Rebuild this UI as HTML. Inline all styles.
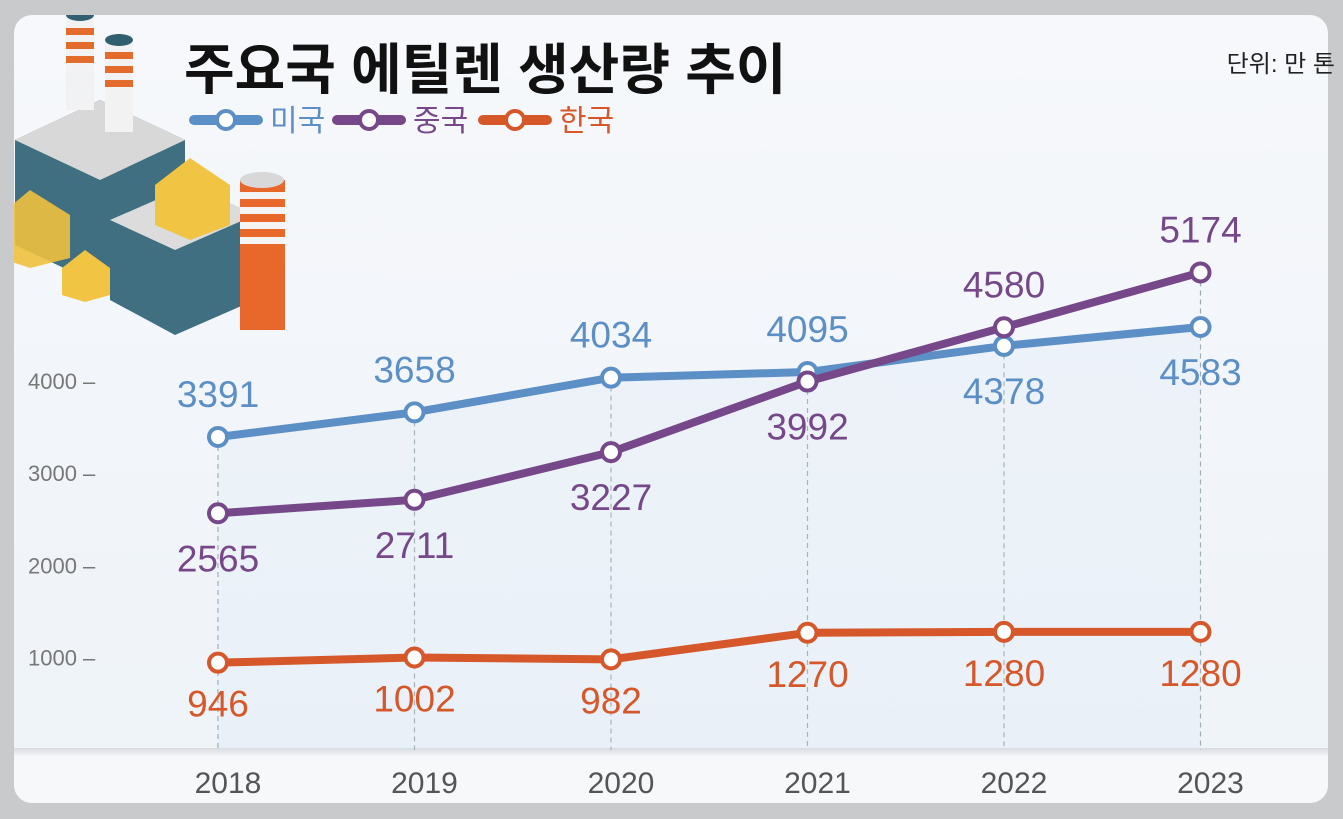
<!DOCTYPE html>
<html><head><meta charset="utf-8"><style>
body{margin:0;background:#c9cacc;width:1343px;height:819px;overflow:hidden;font-family:"Liberation Sans","Noto Sans CJK KR",sans-serif}
#card{position:absolute;left:14px;top:15px;width:1314px;height:788px;border-radius:18px;background:linear-gradient(#f6f8fb,#eef3f8);overflow:hidden}
svg{position:absolute;left:0;top:0}
</style></head><body>
<div id="card"></div>
<svg id="s" width="1343" height="819">
<defs><linearGradient id="band" x1="0" y1="0" x2="0" y2="1"><stop offset="0" stop-color="#d8dbe0"/><stop offset="0.15" stop-color="#f7f8fa"/><stop offset="1" stop-color="#f7f8fa"/></linearGradient>
<clipPath id="cc"><rect x="14" y="15" width="1314" height="788" rx="18"/></clipPath></defs>
<g clip-path="url(#cc)">
<polygon points="15,140 100,100 185,140 185,245 100,285 15,245" fill="#3f6f80"/>
<polygon points="15,140 100,100 185,140 100,180" fill="#d8d8d8"/>
<polygon points="110,220 190,185 255,215 255,300 175,335 110,300" fill="#3f6f80"/>
<polygon points="110,220 190,185 255,215 175,250" fill="#dcdcdc"/>
<rect x="66" y="15" width="28" height="95" fill="#f2f2f2"/><ellipse cx="80" cy="15" rx="14" ry="6" fill="#2f5f70"/>
<g fill="#e36b2b"><rect x="66" y="28" width="28" height="7"/><rect x="66" y="42" width="28" height="7"/><rect x="66" y="56" width="28" height="7"/></g>
<rect x="105" y="40" width="28" height="92" fill="#f2f2f2"/><ellipse cx="119" cy="40" rx="14" ry="6" fill="#2f5f70"/>
<g fill="#e36b2b"><rect x="105" y="52" width="28" height="7"/><rect x="105" y="66" width="28" height="7"/><rect x="105" y="80" width="28" height="7"/></g>
<polygon points="155,185 190,158 230,185 230,225 190,240 155,225" fill="#f2c443"/>
<polygon points="0,215 30,190 70,215 70,258 30,268 0,258" fill="#f0c03e" opacity="0.9"/>
<polygon points="62,268 85,250 110,268 110,295 85,302 62,295" fill="#f2c443"/>
<rect x="240" y="180" width="45" height="150" fill="#e8672a"/><ellipse cx="262" cy="180" rx="22" ry="8" fill="#d8d8d8"/>
<g fill="#f4f4f4"><rect x="240" y="192" width="45" height="7"/><rect x="240" y="207" width="45" height="7"/><rect x="240" y="222" width="45" height="7"/><rect x="240" y="237" width="45" height="7"/></g>
<rect x="0" y="748" width="1343" height="60" fill="url(#band)"/>
</g>
<text x="184" y="89" font-size="55" font-weight="bold" fill="#111">주요국 에틸렌 생산량 추이</text>
<text x="1335" y="72" font-size="24" fill="#222" text-anchor="end">단위: 만 톤</text>
<g id="legend"></g>
<g id="plot"></g>
</svg>
<script>
const categories=["2018","2019","2020","2021","2022","2023"];
const usValues=[3391,3658,4034,4095,4378,4583];
const cnValues=[2565,2711,3227,3992,4580,5174];
const krValues=[946,1002,982,1270,1280,1280];
const yTicks=[1000,2000,3000,4000];
const usPos=["a","a","a","a","b","b"];
const cnPos=["b","b","b","b","a","a"];
const krPos=["b","b","b","b","b","b"];
const NS="http://www.w3.org/2000/svg";
const x=i=>218+i*196.5;
const y=v=>750-v*0.0923;
const plot=document.getElementById('plot');
function mk(t,a,p){const e=document.createElementNS(NS,t);for(const k in a)e.setAttribute(k,a[k]);(p||plot).appendChild(e);return e;}
yTicks.forEach(v=>{
 const t=mk('text',{x:28,y:y(v)+8,'font-size':22,fill:'#777'});t.textContent=v+"  –";
 
 
});
categories.forEach((c,i)=>{
 const l=mk('line',{x1:x(i),x2:x(i),y1:y(Math.max(usValues[i],cnValues[i])),y2:750,stroke:'#9aa',"stroke-width":1.2,"stroke-dasharray":"5,4"});
 
 
 const t=mk('text',{x:x(i)+10,y:793,'font-size':30,fill:'#555','text-anchor':'middle'});t.textContent=c;
 
 
});
let d="M"+x(0)+","+y(usValues[0]);usValues.forEach((v,i)=>d+=" L"+x(i)+","+y(v));d+=" L"+x(5)+",750 L"+x(0)+",750Z";
const ar=mk('path',{d:d,fill:'#d6e4f3',opacity:0.2});


function series(vals,pos,col,tcol,name){
 const pts=vals.map((v,i)=>x(i)+","+y(v)).join(" ");
 const pl=mk('polyline',{points:pts,fill:'none',stroke:col,'stroke-width':8,'stroke-linejoin':'round'});
 
 
 vals.forEach((v,i)=>{
  const c=mk('circle',{cx:x(i),cy:y(v),r:9,fill:'#fff',stroke:col,'stroke-width':4});
  
  
 });
 vals.forEach((v,i)=>{
  const dy=pos[i]=="a"?-30:(name=="korea"?54:58);
  const t=mk('text',{x:x(i),y:y(v)+dy,'font-size':37,fill:tcol,'text-anchor':'middle'});t.textContent=v;
  
  
 });
}
series(usValues,usPos,'#5b8fc6','#5b8fc6','us');
series(krValues,krPos,'#d6582a','#d6582a','korea');
series(cnValues,cnPos,'#76488a','#76488a','china');
const lg=document.getElementById('legend');
[["미국",'#5b8fc6',194],["중국",'#76488a',337],["한국",'#d6582a',483]].forEach(([n,c,lx])=>{
 const g=mk('g',{},lg);
 
 
 mk('line',{x1:lx,x2:lx+64,y1:120,y2:120,stroke:c,'stroke-width':10,'stroke-linecap':'round'},g);
 mk('circle',{cx:lx+32,cy:120,r:9,fill:'#fff',stroke:c,'stroke-width':4},g);
 const t=mk('text',{x:lx+76,y:131,'font-size':30,fill:c},g);t.textContent=n;
});
</script>
</body></html>
